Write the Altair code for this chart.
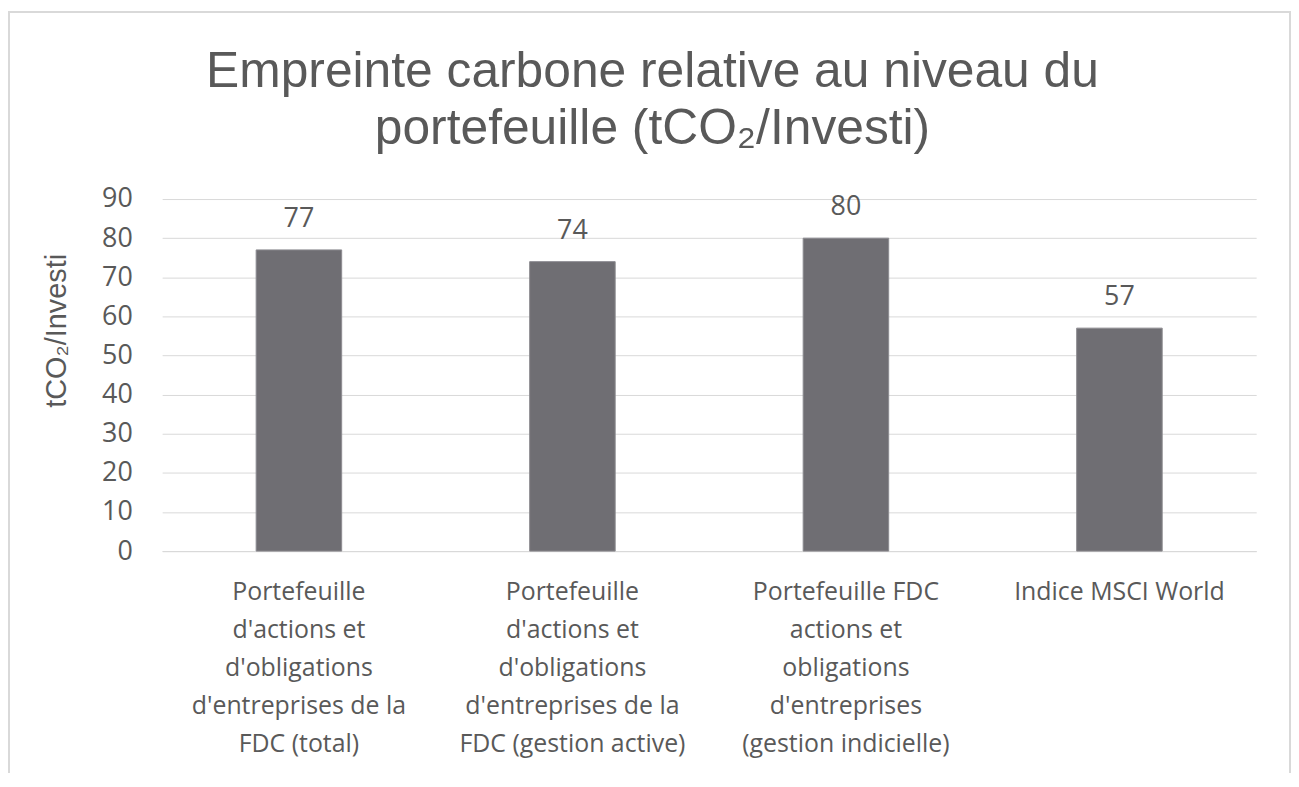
import altair as alt
import pandas as pd

categories = [
    "Portefeuille\nd'actions et\nd'obligations\nd'entreprises de la\nFDC (total)",
    "Portefeuille\nd'actions et\nd'obligations\nd'entreprises de la\nFDC (gestion active)",
    "Portefeuille FDC\nactions et\nobligations\nd'entreprises\n(gestion indicielle)",
    "Indice MSCI World",
]
values = [77, 74, 80, 57]
y_ticks = [0, 10, 20, 30, 40, 50, 60, 70, 80, 90]

df = pd.DataFrame({"cat": categories, "val": values})

GREY_TEXT = "#595959"

x_enc = alt.X(
    "cat:N",
    sort=categories,
    scale=alt.Scale(paddingInner=0, paddingOuter=0),
    axis=alt.Axis(
        title=None,
        labelAngle=0,
        labelExpr="split(datum.label, '\\n')",
        labelFont="Open Sans",
        labelFontSize=25,
        labelColor=GREY_TEXT,
        labelLineHeight=38,
        labelPadding=29,
        labelLimit=400,
        labelBaseline="top",
        ticks=False,
        domainColor="#d9d9d9",
        domainWidth=1,
    ),
)

y_enc = alt.Y(
    "val:Q",
    scale=alt.Scale(domain=[0, 90], nice=False),
    axis=alt.Axis(
        values=y_ticks,
        labelOverlap=False,
        title="tCO\u2082/Investi",
        titleFont="Liberation Sans",
        titleFontSize=29,
        titleFontWeight="normal",
        titleColor=GREY_TEXT,
        titleAngle=-90,
        titleAlign="center",
        titleBaseline="middle",
        titleX=-106,
        titleY=132,
        labelFont="Open Sans",
        labelFontSize=27,
        labelColor=GREY_TEXT,
        labelPadding=30,
        ticks=False,
        domain=False,
        gridColor="#d9d9d9",
        gridWidth=1,
    ),
)

base = alt.Chart(df).encode(x=x_enc, y=y_enc)

bars = base.mark_bar(width=86, color="#6f6e73", stroke="#8c8b90", strokeWidth=1)

labels = base.mark_text(
    font="Open Sans", fontSize=27, color=GREY_TEXT, baseline="alphabetic", dy=-23
).encode(text="val:Q")

border = alt.Chart(pd.DataFrame({"a": [0]})).mark_rect(
    fill=None, stroke="#d9d9d9", strokeWidth=2
).encode(
    x=alt.value(-154), x2=alt.value(1134), y=alt.value(-188), y2=alt.value(700)
)

chart = alt.layer(border, bars, labels).properties(
    width=1100,
    height=354,
    background="white",
    autosize=alt.AutoSizeParams(type="none"),
    padding={"left": 155, "top": 190, "right": 35, "bottom": 221},
    title=alt.Title(
        text=["Empreinte carbone relative au niveau du", "portefeuille (tCO\u2082/Investi)"],
        font="Liberation Sans",
        fontSize=50,
        fontWeight="normal",
        color=GREY_TEXT,
        lineHeight=58,
        anchor="middle",
        frame="group",
        dx=-57,
        offset=-144,
    ),
).configure_view(stroke=None)

chart.save("out.html", embed_options={"renderer": "svg", "actions": False})
